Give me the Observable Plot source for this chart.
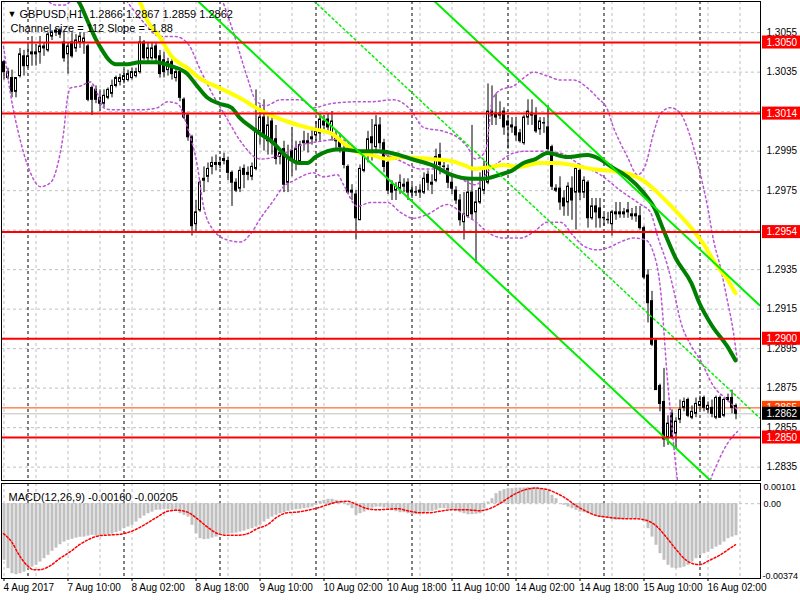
<!DOCTYPE html>
<html><head><meta charset="utf-8">
<script src="https://cdn.jsdelivr.net/npm/d3@7"></script>
<script src="https://cdn.jsdelivr.net/npm/@observablehq/plot@0.6"></script>
<style>
body{margin:0;background:#fff;}
#chart{position:relative;width:800px;height:600px;overflow:hidden;background:#fff;}
#chart svg{position:absolute;}
</style></head><body><div id="chart"></div>
<script>
// ---- candle data (GBPUSD H1, bar 0 = 4 Aug 2017 18:00) ----
const open = [
1.3040,1.3032,1.3032,1.3025,1.3033,1.3043,1.3038,1.3044,1.3044,1.3045,
1.3047,1.3046,1.3053,1.3055,1.3056,1.3050,1.3044,1.3050,1.3047,1.3050,
1.3050,1.3048,1.3027,1.3026,1.3022,1.3019,1.3022,1.3024,1.3028,1.3030,
1.3031,1.3031,1.3032,1.3033,1.3035,1.3050,1.3042,1.3042,1.3048,1.3043,
1.3041,1.3036,1.3040,1.3032,1.3035,1.3021,1.3013,1.3002,1.2958,1.2965,
1.2980,1.2982,1.2987,1.2988,1.2988,1.2990,1.2990,1.2984,1.2979,1.2976,
1.2986,1.2984,1.2982,1.2986,1.3005,1.3012,1.3000,1.3010,1.3001,1.2992,
1.2996,1.2979,1.2995,1.2990,1.2990,1.2999,1.2999,1.3001,1.3003,1.3004,
1.3010,1.3011,1.3004,1.3003,1.3001,1.2996,1.2987,1.2975,1.2973,1.2960,
1.2985,1.2993,1.3002,1.2997,1.3008,1.2999,1.2989,1.2978,1.2975,1.2976,
1.2978,1.2979,1.2975,1.2974,1.2974,1.2974,1.2983,1.2978,1.2980,1.2993,
1.2987,1.2986,1.2979,1.2975,1.2970,1.2959,1.2962,1.2974,1.2964,1.2969,
1.2975,1.2979,1.3015,1.3014,1.3014,1.3015,1.3010,1.3008,1.3007,1.3004,
1.2999,1.3012,1.3014,1.3013,1.3006,1.3009,1.3007,1.2997,1.2976,1.2976,
1.2971,1.2969,1.2976,1.2974,1.2985,1.2974,1.2979,1.2961,1.2967,1.2966,
1.2961,1.2960,1.2958,1.2964,1.2963,1.2964,1.2965,1.2962,1.2963,1.2962,
1.2956,1.2932,1.2919,1.2899,1.2876,1.2868,1.2850,1.2862,1.2852,1.2859,
1.2865,1.2869,1.2860,1.2862,1.2866,1.2870,1.2864,1.2865,1.2860,1.2870,
1.2861,1.2869,1.2870,1.2866];
const high = [
1.3041,1.3037,1.3036,1.3032,1.3047,1.3046,1.3048,1.3053,1.3049,1.3053,
1.3050,1.3055,1.3056,1.3057,1.3057,1.3055,1.3050,1.3055,1.3054,1.3055,
1.3055,1.3049,1.3028,1.3028,1.3026,1.3026,1.3027,1.3031,1.3033,1.3034,
1.3036,1.3036,1.3037,1.3037,1.3053,1.3051,1.3050,1.3050,1.3050,1.3046,
1.3045,1.3042,1.3042,1.3037,1.3037,1.3022,1.3014,1.3003,1.2970,1.2980,
1.2987,1.2989,1.2992,1.2993,1.2992,1.2994,1.2992,1.2985,1.2981,1.2987,
1.2988,1.2987,1.2989,1.3026,1.3018,1.3021,1.3013,1.3013,1.3008,1.2996,
1.3000,1.2998,1.3007,1.3000,1.3000,1.3005,1.3004,1.3007,1.3010,1.3014,
1.3013,1.3014,1.3015,1.3005,1.3004,1.2999,1.2988,1.2978,1.2975,1.2988,
1.2995,1.3005,1.3011,1.3013,1.3012,1.3001,1.2993,1.2980,1.2979,1.2983,
1.2981,1.2981,1.2978,1.2977,1.2978,1.2984,1.2985,1.2983,1.2996,1.2999,
1.2990,1.2988,1.2983,1.2977,1.2973,1.2974,1.2980,1.3008,1.2975,1.2984,
1.2990,1.3029,1.3028,1.3024,1.3020,1.3017,1.3013,1.3012,1.3012,1.3006,
1.3013,1.3021,1.3021,1.3017,1.3012,1.3012,1.3018,1.2998,1.2978,1.2982,
1.2975,1.2979,1.2982,1.2988,1.2988,1.2982,1.2980,1.2971,1.2971,1.2971,
1.2963,1.2964,1.2965,1.2969,1.2969,1.2966,1.2969,1.2966,1.2967,1.2967,
1.2957,1.2935,1.2924,1.2900,1.2877,1.2885,1.2861,1.2864,1.2860,1.2869,
1.2870,1.2870,1.2866,1.2870,1.2871,1.2871,1.2868,1.2869,1.2871,1.2871,
1.2870,1.2872,1.2874,1.2867];
const low = [
1.3031,1.3031,1.3022,1.3022,1.3032,1.3033,1.3037,1.3038,1.3038,1.3039,
1.3043,1.3045,1.3051,1.3053,1.3052,1.3040,1.3034,1.3042,1.3045,1.3047,
1.3044,1.3020,1.3013,1.3019,1.3015,1.3017,1.3021,1.3022,1.3027,1.3028,
1.3029,1.3030,1.3031,1.3032,1.3034,1.3041,1.3040,1.3041,1.3040,1.3032,
1.3032,1.3033,1.3031,1.3030,1.3020,1.3011,1.3000,1.2952,1.2954,1.2964,
1.2974,1.2979,1.2983,1.2985,1.2986,1.2988,1.2980,1.2967,1.2974,1.2974,
1.2976,1.2980,1.2980,1.2985,1.2998,1.2995,1.2993,1.2993,1.2988,1.2988,
1.2974,1.2974,1.2982,1.2985,1.2988,1.2995,1.2994,1.2998,1.3000,1.3000,
1.3005,1.3004,1.3000,1.2995,1.2994,1.2986,1.2973,1.2970,1.2950,1.2960,
1.2984,1.2989,1.2990,1.2995,1.2996,1.2984,1.2973,1.2970,1.2970,1.2973,
1.2974,1.2970,1.2971,1.2972,1.2971,1.2973,1.2975,1.2973,1.2979,1.2983,
1.2984,1.2976,1.2973,1.2968,1.2957,1.2950,1.2961,1.2960,1.2938,1.2968,
1.2973,1.2978,1.3008,1.3008,1.3011,1.3003,1.2996,1.3004,1.3000,1.2999,
1.2998,1.3008,1.3008,1.3004,1.3003,1.3004,1.2995,1.2975,1.2974,1.2965,
1.2962,1.2962,1.2960,1.2955,1.2970,1.2971,1.2956,1.2960,1.2956,1.2956,
1.2957,1.2958,1.2952,1.2960,1.2961,1.2961,1.2961,1.2960,1.2959,1.2955,
1.2930,1.2908,1.2896,1.2874,1.2863,1.2845,1.2846,1.2849,1.2844,1.2857,
1.2863,1.2860,1.2859,1.2860,1.2864,1.2863,1.2862,1.2860,1.2859,1.2860,
1.2860,1.2868,1.2862,1.2859];
const close = [
1.3035,1.3035,1.3025,1.3032,1.3044,1.3038,1.3043,1.3045,1.3045,1.3048,
1.3048,1.3054,1.3055,1.3056,1.3054,1.3042,1.3048,1.3043,1.3051,1.3053,
1.3052,1.3021,1.3021,1.3021,1.3019,1.3023,1.3026,1.3028,1.3032,1.3032,
1.3033,1.3034,1.3035,1.3035,1.3050,1.3042,1.3047,1.3047,1.3042,1.3034,
1.3035,1.3040,1.3034,1.3035,1.3022,1.3012,1.3002,1.2957,1.2964,1.2979,
1.2981,1.2986,1.2989,1.2989,1.2989,1.2991,1.2984,1.2979,1.2975,1.2985,
1.2983,1.2983,1.2987,1.3006,1.3012,1.3002,1.3008,1.2999,1.2991,1.2994,
1.2978,1.2992,1.2990,1.2996,1.2998,1.3000,1.3000,1.3002,1.3005,1.3011,
1.3008,1.3007,1.3010,1.3000,1.2997,1.2988,1.2974,1.2974,1.2961,1.2986,
1.2993,1.3001,1.2999,1.3008,1.2999,1.2987,1.2975,1.2974,1.2977,1.2979,
1.2977,1.2974,1.2974,1.2974,1.2975,1.2981,1.2979,1.2979,1.2992,1.2988,
1.2987,1.2979,1.2976,1.2970,1.2960,1.2963,1.2974,1.2963,1.2969,1.2976,
1.2986,1.3015,1.3013,1.3012,1.3013,1.3007,1.3008,1.3007,1.3003,1.3000,
1.3012,1.3015,1.3013,1.3005,1.3010,1.3009,1.2996,1.2977,1.2975,1.2969,
1.2967,1.2977,1.2970,1.2986,1.2974,1.2980,1.2961,1.2967,1.2964,1.2961,
1.2961,1.2960,1.2964,1.2963,1.2964,1.2963,1.2964,1.2963,1.2962,1.2956,
1.2931,1.2918,1.2897,1.2874,1.2867,1.2849,1.2857,1.2850,1.2858,1.2864,
1.2868,1.2861,1.2863,1.2867,1.2868,1.2865,1.2866,1.2862,1.2870,1.2860,
1.2869,1.2870,1.2865,1.2862];

// ---- moving averages (read at bar positions) ----
const maGreenIdx = [17,19,21,23,25,26,28,31,34,38,42,46,48,51,54,57,59,62,64,67,71,74,76,78,81,84,89,94,99,102,107,112,117,120,124,127,130,133,136,141,146,149,152,156,160,163,165,168,172,174,177,181,183];
const maGreen = [1.3075,1.3070,1.3061,1.3052,1.3045,1.3042,1.3039,1.3039,1.3040,1.3040,1.3038,1.3034,1.3029,1.3022,1.3019,1.3017,1.3012,1.3007,1.3004,1.3000,1.2992,1.2989,1.2989,1.2992,1.2995,1.2996,1.2995,1.2995,1.2993,1.2991,1.2988,1.2983,1.2981,1.2981,1.2983,1.2985,1.2989,1.2991,1.2994,1.2992,1.2993,1.2991,1.2987,1.2982,1.2974,1.2965,1.2955,1.2941,1.2928,1.2918,1.2907,1.2896,1.2889];
const maYellowIdx = [32,34,36,39,42,46,49,54,59,64,67,71,74,78,82,85,88,92,96,99,107,112,115,118,122,125,129,134,138,142,147,152,157,160,163,167,172,175,178,181,183];
const maYellow = [1.3075,1.3071,1.3061,1.3053,1.3043,1.3037,1.3032,1.3027,1.3022,1.3016,1.3013,1.3010,1.3008,1.3006,1.3004,1.2999,1.2995,1.2993,1.2991,1.2992,1.2991,1.2990,1.2988,1.2986,1.2987,1.2988,1.2987,1.2989,1.2989,1.2988,1.2986,1.2985,1.2983,1.2980,1.2975,1.2967,1.2956,1.2948,1.2938,1.2930,1.2923];

// ---- Bollinger-style bands (dotted) ----
const bbUpIdx = [0,24.25,46.75,52.5,54.75,57.5,61,63,65.5,69.25,74.25,77.5,81.75,88.5,91.75,97.5,101.75,105,110,113.5,116,118,120.5,122.25,124.25,127.5,130,132.5,136,139.25,142.5,146,148.5,151,152.5,154.25,156,158.5,160.5,162.5,164.25,166.75,169.25,171.75,174.25,176,177.5,179.25,181,182.5,183.5];
const bbUp = [1.3132,1.3112,1.3102,1.3081,1.3071,1.3055,1.3032,1.3021,1.3018,1.3021,1.3021,1.3017,1.3019,1.3020,1.3020,1.3021,1.3016,1.3007,1.3005,1.3002,1.2997,1.2991,1.2995,1.3021,1.3026,1.3028,1.3032,1.3035,1.3033,1.3031,1.3031,1.3027,1.3022,1.3016,1.3007,1.2999,1.2992,1.2983,1.2988,1.3004,1.3014,1.3017,1.3014,1.3002,1.2983,1.2967,1.2950,1.2936,1.2919,1.2903,1.2888];
const bbMidIdx = [0,6.75,10.5,13,15.5,19.25,24.25,29.25,34.25,39.25,43,46.25,49.25,52.5,56,59.25,64.25,69.25,74.25,79.25,84.25,89.25,94.25,99.25,104.25,109.25,114.25,118,121.75,124.25,127.5,131,134.25,139.25,144.25,149.25,154.25,159.25,161.75,163.5,166,167.5,169.25,171.75,174.25,177.5,181,183.5];
const bbMid = [1.3097,1.3079,1.3072,1.3069,1.3069,1.3080,1.3085,1.3075,1.3062,1.3053,1.3053,1.3049,1.3036,1.3023,1.3011,1.3000,1.2991,1.2993,1.2998,1.3000,1.3001,1.2995,1.2994,1.2990,1.2986,1.2986,1.2981,1.2978,1.2986,1.2990,1.2994,1.2995,1.2995,1.2994,1.2988,1.2983,1.2975,1.2968,1.2964,1.2952,1.2937,1.2925,1.2909,1.2897,1.2889,1.2876,1.2869,1.2864];
const bbLowIdx = [0,1.75,4.25,6.75,9.25,11.75,13.75,15,16,16.75,19.25,21.75,23.5,25,26.75,31,35,38.5,41,43.5,46,48.5,50,52.5,56,59.25,61.75,64.25,67.5,70,72.5,77.5,80,83.5,85,88.5,91.75,96,99.25,102.5,106,111,115,117.5,121.75,125,129.25,132.5,136,139.25,142.5,145,148.5,151,154.25,157.5,160.5,162.25,164.25,166,167.5,168.5,170.5,174.25,176,178.5,181,183.5];
const bbLow = [1.3048,1.3024,1.3000,1.2984,1.2977,1.2979,1.2990,1.3004,1.3022,1.3027,1.3028,1.3030,1.3024,1.3017,1.3016,1.3016,1.3016,1.3017,1.3020,1.3019,1.3007,1.2987,1.2967,1.2955,1.2950,1.2949,1.2953,1.2961,1.2970,1.2977,1.2980,1.2984,1.2982,1.2983,1.2978,1.2967,1.2969,1.2969,1.2964,1.2961,1.2963,1.2968,1.2963,1.2960,1.2953,1.2951,1.2951,1.2954,1.2959,1.2959,1.2952,1.2947,1.2945,1.2946,1.2949,1.2951,1.2950,1.2945,1.2925,1.2879,1.2847,1.2828,1.2803,1.2803,1.2823,1.2837,1.2847,1.2853];

// ---- regression channel (size 112, slope -1.88) ----
const chanIdx = [0, 189];
const chanUpper = [1.3275, 1.2917];
const chanMiddle = [1.3218, 1.2860];
const chanLower = [1.3163, 1.2805];

// ---- horizontal levels ----
const levels = [1.3050, 1.3014, 1.2954, 1.2900, 1.2850];
const askPrice = 1.2865;
const bidPrice = 1.2862;
const gridPrices = [1.3055,1.3035,1.3015,1.2995,1.2975,1.2955,1.2935,1.2915,1.2895,1.2875,1.2855,1.2835];
const axisPrices = [1.3055,1.3035,1.2995,1.2975,1.2935,1.2915,1.2895,1.2875,1.2855,1.2835];

// ---- time axis ----
const timeIdx = [0,16,32,48,64,80,96,112,128,144,160,176];
const timeLabels = ["4 Aug 2017","7 Aug 10:00","8 Aug 02:00","8 Aug 18:00","9 Aug 10:00","10 Aug 02:00","10 Aug 18:00","11 Aug 10:00","14 Aug 02:00","14 Aug 18:00","15 Aug 10:00","16 Aug 02:00"];
const gridIdx = d3.range(0, 185, 8);
const dayIdx = [6,30,54,78,102,126,150,174];

// ---- MACD(12,26,9) ----
const macd = [
-0.00283,-0.00325,-0.0035,-0.00355,-0.0035,-0.00342,-0.00325,-0.00317,-0.00308,-0.00292,
-0.00275,-0.00258,-0.00238,-0.00222,-0.00205,-0.00192,-0.00183,-0.00178,-0.00172,-0.00168,
-0.00167,-0.00162,-0.00158,-0.00162,-0.00162,-0.00158,-0.00155,-0.00152,-0.00145,-0.00138,
-0.00125,-0.00117,-0.00108,-0.00092,-0.00075,-0.00062,-0.0005,-0.00042,-0.00033,-0.00032,
-0.00028,-0.0003,-0.00033,-0.00038,-0.0005,-0.00058,-0.00067,-0.00108,-0.0015,-0.00175,
-0.0018,-0.00178,-0.00172,-0.00167,-0.00158,-0.00155,-0.00152,-0.0015,-0.00147,-0.00142,
-0.00137,-0.0013,-0.00125,-0.00117,-0.00108,-0.00092,-0.00078,-0.00067,-0.00058,-0.0005,
-0.00045,-0.00038,-0.00033,-0.0003,-0.00028,-0.00025,-0.00022,-0.00017,-0.00008,0.00012,
0.00017,0.00022,0.00022,0.00017,0.00012,0.00005,-0.0001,-0.00025,-0.00058,-0.0005,
-0.00042,-0.00028,-0.00022,-0.00017,-0.00017,-0.00022,-0.00025,-0.00035,-0.0004,-0.00045,
-0.00045,-0.0005,-0.00055,-0.00055,-0.0005,-0.00045,-0.00042,-0.00038,-0.00033,-0.00025,
-0.00025,-0.00028,-0.00033,-0.00038,-0.00045,-0.0005,-0.00055,-0.00055,-0.00053,-0.0005,
-0.00025,0.00008,0.00025,0.0005,0.00062,0.0007,0.00075,0.00075,0.00078,0.00078,
0.00078,0.0008,0.0008,0.00078,0.00075,0.00072,0.00062,0.00042,0.00025,0,
-0.00008,-0.00017,-0.00025,-0.00033,-0.00042,-0.00045,-0.0005,-0.00055,-0.00062,-0.00067,
-0.00072,-0.00075,-0.0008,-0.00083,-0.0008,-0.00078,-0.00075,-0.00075,-0.00075,-0.00075,
-0.00092,-0.00125,-0.00167,-0.00208,-0.0025,-0.00283,-0.00308,-0.00322,-0.00325,-0.00322,
-0.00317,-0.00308,-0.00292,-0.00275,-0.00258,-0.0025,-0.00242,-0.00228,-0.00217,-0.00208,
-0.00192,-0.00175,-0.00167,-0.0016];
const sigIdx = [0,2,4,6,7.5,9,11.7,14,16.7,19,21.7,24,27.6,30,32.6,35,38.4,41,43.4,46,48.4,51,53.6,56,58.4,61,63.4,66,68.4,71,73.4,76,78.4,81,83.4,86,88.4,91,93.4,96,98.4,101.7,104,106.5,109,112,115.5,119,121.5,124,125.7,128,130.8,133,135.7,138,140.7,143,145.7,148,150.7,153,155.7,158,160.7,163,165.7,168,170.7,172.4,174,176.5,179,181.5,183];
const sigVal = [-0.0015,-0.0019,-0.0026,-0.0031,-0.0033,-0.0033,-0.0031,-0.00275,-0.0024,-0.00205,-0.00175,-0.0016,-0.00155,-0.0015,-0.00133,-0.00108,-0.00067,-0.00038,-0.00033,-0.00042,-0.00075,-0.00117,-0.0015,-0.00158,-0.00158,-0.0015,-0.00125,-0.00105,-0.00067,-0.00045,-0.00042,-0.00033,-0.00022,-0.00005,0.00008,0.00012,-0.00005,-0.00025,-0.0003,-0.00028,-0.00025,-0.00038,-0.00045,-0.00045,-0.00038,-0.0003,-0.0003,-0.00035,-0.00025,0,0.00022,0.0005,0.00072,0.00078,0.00072,0.00055,0.00025,-0.00008,-0.00038,-0.00058,-0.00067,-0.00072,-0.00075,-0.00075,-0.00083,-0.00108,-0.00167,-0.00225,-0.00283,-0.003,-0.00305,-0.00283,-0.00258,-0.00225,-0.00205];
const macdMax = 0.00101, macdMin = -0.00374;

const titleText = "GBPUSD,H1  1.2866 1.2867 1.2859 1.2862";
const channelText = "Channel size = 112 Slope = -1.88";
const macdText = "MACD(12,26,9) -0.00160 -0.00205";

// ---------------- build ----------------
const FONT = "'Liberation Sans', Arial, sans-serif";
const yDomain = [1.282823, 1.307076];
const xDomain = [-0.5, 189.25];
const bars = close.map((c, i) => ({i, o: open[i], h: high[i], l: low[i], c}));
const pts = (idx, val) => idx.map((i, k) => ({i, v: val[k]}));
const dotted = {stroke: "#ba55d3", strokeDasharray: "2,3", curve: "monotone-x", clip: true};
const gridStyle = {stroke: "#c0c0c0", strokeDasharray: "3,3"};
const sepStyle = {stroke: "#000", strokeDasharray: "3,3", dx: 0.5};
const style = {fontFamily: FONT, fontSize: "10px", background: "transparent", overflow: "visible", color: "#000"};

const main = Plot.plot({
  width: 800, height: 482, marginLeft: 1, marginRight: 40, marginTop: 1, marginBottom: 2,
  x: {domain: xDomain, axis: null},
  y: {domain: yDomain, axis: null},
  style,
  marks: [
    Plot.ruleY(gridPrices, gridStyle),
    Plot.ruleX(gridIdx, {...gridStyle, dx: 0.5}),
    Plot.ruleX(dayIdx, sepStyle),
    Plot.ruleY([bidPrice], {stroke: "#c0c0c0"}),
    Plot.ruleY([askPrice], {stroke: "#ff4500"}),
    Plot.ruleX(bars, {x: "i", y1: "l", y2: "h", stroke: "#000", dx: 0.5}),
    Plot.rect(bars, {x1: d => d.i - 0.25, x2: d => d.i + 0.25, y1: "o",
      y2: d => d.c === d.o ? d.o + 0.00002 : d.c,
      fill: d => d.c > d.o ? "#fff" : "#000", stroke: "#000", dx: 0.5}),
    Plot.line(pts(bbUpIdx, bbUp), {x: "i", y: "v", ...dotted}),
    Plot.line(pts(bbMidIdx, bbMid), {x: "i", y: "v", ...dotted}),
    Plot.line(pts(bbLowIdx, bbLow), {x: "i", y: "v", ...dotted}),
    Plot.line(pts(maYellowIdx, maYellow), {x: "i", y: "v", stroke: "#ffff00", strokeWidth: 4, curve: "monotone-x", clip: true}),
    Plot.line(pts(maGreenIdx, maGreen), {x: "i", y: "v", stroke: "#008000", strokeWidth: 4, curve: "monotone-x", clip: true}),
    Plot.line(pts(chanIdx, chanUpper), {x: "i", y: "v", stroke: "#00ee00", strokeWidth: 2, clip: true}),
    Plot.line(pts(chanIdx, chanLower), {x: "i", y: "v", stroke: "#00ee00", strokeWidth: 2, clip: true}),
    Plot.line(pts(chanIdx, chanMiddle), {x: "i", y: "v", stroke: "#00ee00", strokeDasharray: "2,3", clip: true}),
    Plot.ruleY(levels, {stroke: "#ff0000", strokeWidth: 2}),
    Plot.text(["▼"], {frameAnchor: "top-left", dx: 6, dy: 9, fontSize: 9, textAnchor: "start", fill: "#000"}),
    Plot.text([titleText], {frameAnchor: "top-left", dx: 18, dy: 9, fontSize: 11, textAnchor: "start", fill: "#000"}),
    Plot.text([channelText], {frameAnchor: "top-left", dx: 9, dy: 23, fontSize: 11, textAnchor: "start", fill: "#000"}),
    Plot.frame({stroke: "#000"})
  ]
});
main.style.left = "0px"; main.style.top = "0px";

const box = 0.00033;
const axis = Plot.plot({
  width: 40, height: 482, marginLeft: 0, marginRight: 0, marginTop: 1, marginBottom: 2,
  y: {domain: yDomain, axis: null},
  style,
  marks: [
    Plot.text(axisPrices, {y: d => d, text: d => d.toFixed(4), frameAnchor: "left", dx: 6, textAnchor: "start", fill: "#000"}),
    Plot.barY(levels, {y1: d => d - box, y2: d => d + box, fill: "#ff0000", insetLeft: 2}),
    Plot.text(levels, {y: d => d, text: d => d.toFixed(4), frameAnchor: "left", dx: 6, textAnchor: "start", fill: "#fff"}),
    Plot.barY([askPrice], {y1: d => d - box, y2: d => d + box, fill: "#ff4500", insetLeft: 2}),
    Plot.text([askPrice], {y: d => d, text: d => d.toFixed(4), frameAnchor: "left", dx: 6, textAnchor: "start", fill: "#fff"}),
    Plot.barY([bidPrice], {y1: d => d - box, y2: d => d + box, fill: "#000", insetLeft: 2}),
    Plot.text([bidPrice], {y: d => d, text: d => d.toFixed(4), frameAnchor: "left", dx: 6, textAnchor: "start", fill: "#fff"})
  ]
});
axis.style.left = "760px"; axis.style.top = "0px";

const macdBars = macd.map((v, i) => ({i, v}));
const tickLen = 0.00015;
const sub = Plot.plot({
  width: 800, height: 118, marginLeft: 1, marginRight: 40, marginTop: 1, marginBottom: 22,
  x: {domain: xDomain, axis: null},
  y: {domain: [macdMin, macdMax], axis: null},
  style,
  marks: [
    Plot.ruleX(gridIdx, {...gridStyle, dx: 0.5}),
    Plot.ruleX(dayIdx, sepStyle),
    Plot.ruleY([0], gridStyle),
    Plot.ruleX(macdBars, {x: "i", y1: 0, y2: "v", stroke: "#c0c0c0", strokeWidth: 3, dx: 0.5}),
    Plot.line(pts(sigIdx, sigVal), {x: "i", y: "v", stroke: "#ff0000", strokeDasharray: "2,2", curve: "monotone-x"}),
    Plot.text([macdText], {frameAnchor: "top-left", dx: 7, dy: 10, fontSize: 11, textAnchor: "start", fill: "#000"}),
    Plot.text([macdMax], {y: d => d, text: d => d.toFixed(5), frameAnchor: "right", dx: 3, fontSize: 9, textAnchor: "start", lineAnchor: "top", fill: "#000"}),
    Plot.text([0], {y: d => d, text: () => "0.00", frameAnchor: "right", dx: 3, fontSize: 9, textAnchor: "start", fill: "#000"}),
    Plot.text([macdMin], {y: d => d, text: d => d.toFixed(5), frameAnchor: "right", dx: 2, fontSize: 9, textAnchor: "start", lineAnchor: "bottom", fill: "#000"}),
    Plot.ruleX(timeIdx, {x: d => d, y1: macdMin, y2: macdMin - tickLen, stroke: "#000", dx: 0.5}),
    Plot.text(timeIdx, {x: d => d, text: (d, k) => timeLabels[k], frameAnchor: "bottom", dy: 12, dx: 0, textAnchor: "start", fill: "#000"}),
    Plot.frame({stroke: "#000"})
  ]
});
sub.style.left = "0px"; sub.style.top = "482px";

const root = document.getElementById("chart");
root.append(main, sub, axis);
</script>
</body></html>
